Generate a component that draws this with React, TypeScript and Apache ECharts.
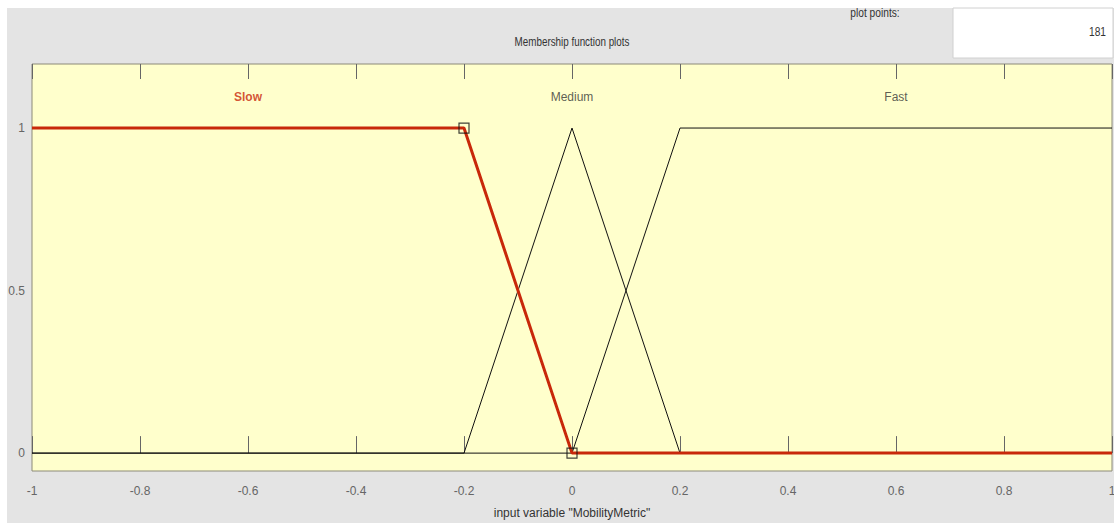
import React, { useEffect, useRef } from "react";
import * as echarts from "echarts";

const slowPts: [number, number][] = [[-1, 1], [-0.2, 1], [0, 0], [1, 0]];
const mediumPts: [number, number][] = [[-1, 0], [-0.2, 0], [0, 1], [0.2, 0], [1, 0]];
const fastPts: [number, number][] = [[-1, 0], [0, 0], [0.2, 1], [1, 1]];
const vertexPts: [number, number][] = [[-0.2, 1], [0, 0]];
const mfNames = ["Slow", "Medium", "Fast"];
const mfLabelPos: [number, number][] = [[-0.6, 1.095], [0, 1.095], [0.6, 1.095]];
const xTicks = [-1, -0.8, -0.6, -0.4, -0.2, 0, 0.2, 0.4, 0.6, 0.8, 1];
const yTicks = [0, 0.5, 1];
const plotPoints = "181";

const FONT = "'Liberation Sans', Arial, sans-serif";

export default function App() {
  const ref = useRef<HTMLDivElement>(null);
  useEffect(() => {
    if (!ref.current) return;
    const chart = echarts.init(ref.current, null, { renderer: "svg" });
    const fmt = (v: number) => {
      const r = Math.round(v * 10) / 10;
      return r === 0 ? "0" : String(r);
    };
    chart.setOption({
      animation: false,
      backgroundColor: "#ffffff",
      graphic: [
        { type: "rect", z: -10, shape: { x: 7, y: 8, width: 1107, height: 515 }, style: { fill: "#e4e4e4" } },
        { type: "rect", z: 10, shape: { x: 953, y: 8, width: 160, height: 50 }, style: { fill: "#ffffff", stroke: "#d0d0d0", lineWidth: 1 } },
        { type: "text", z: 11, x: 1106, y: 32, scaleX: 0.85, style: { text: plotPoints, align: "right", verticalAlign: "middle", fill: "#333", font: `12px ${FONT}` } },
        { type: "text", z: 11, x: 875, y: 13, scaleX: 0.85, style: { text: "plot points:", align: "center", verticalAlign: "middle", fill: "#333", font: `12px ${FONT}` } },
        { type: "text", z: 11, x: 572, y: 42, scaleX: 0.82, style: { text: "Membership function plots", align: "center", verticalAlign: "middle", fill: "#333", font: `12px ${FONT}` } },
      ],
      grid: {
        left: 32, right: 2, top: 64, bottom: 52,
        outerBoundsMode: "none", containLabel: false,
        show: true, backgroundColor: "#ffffcc", borderColor: "#8c8a78", borderWidth: 1,
      },
      xAxis: [
        {
          type: "value", min: -1, max: 1, position: "bottom",
          axisLine: { show: false },
          splitLine: { show: false },
          axisTick: { show: true, inside: true, length: 17, lineStyle: { color: "#666", width: 1 }, customValues: xTicks },
          axisLabel: { show: true, customValues: xTicks, formatter: fmt, color: "#666", fontSize: 12, fontFamily: FONT, margin: 14 },
          name: 'input variable "MobilityMetric"', nameLocation: "middle", nameGap: 36,
          nameTextStyle: { color: "#333", fontSize: 12, fontFamily: FONT },
        },
        {
          type: "value", min: -1, max: 1, position: "top",
          axisLine: { show: false },
          splitLine: { show: false },
          axisTick: { show: true, inside: true, length: 15, lineStyle: { color: "#666", width: 1 }, customValues: xTicks },
          axisLabel: { show: false },
        },
      ],
      yAxis: {
        type: "value", min: -0.055, max: 1.197,
        axisLine: { show: false },
        splitLine: { show: false },
        axisTick: { show: false },
        axisLabel: { show: true, customValues: yTicks, formatter: (v: number) => String(v), color: "#666", fontSize: 12, fontFamily: FONT, margin: 7 },
      },
      series: [
        {
          type: "line", data: mediumPts, symbol: "none", xAxisIndex: 0,
          lineStyle: { color: "#111", width: 1 }, z: 2,
        },
        {
          type: "line", data: fastPts, symbol: "none", xAxisIndex: 0,
          lineStyle: { color: "#111", width: 1 }, z: 2,
        },
        {
          type: "line", data: slowPts, symbol: "none", xAxisIndex: 0,
          lineStyle: { color: "#c8280a", width: 3 }, z: 3,
        },
        {
          type: "scatter", data: vertexPts, symbol: "rect", symbolSize: 10, xAxisIndex: 0,
          itemStyle: { color: "rgba(0,0,0,0)", borderColor: "#111", borderWidth: 1.2 }, z: 4,
        },
        {
          type: "scatter", xAxisIndex: 0, symbolSize: 0, z: 5,
          data: mfLabelPos.map((p, i) => ({
            value: p, name: mfNames[i],
            label: { color: i === 0 ? "#c8280a" : "#333", fontWeight: i === 0 ? "bold" : "normal" },
          })),
          label: {
            show: true, position: "inside", formatter: (p: any) => p.name,
            fontSize: 12, fontFamily: FONT,
          },
        },
      ],
    });
    return () => chart.dispose();
  }, []);
  return <div ref={ref} style={{ position: "absolute", left: 0, top: 0, width: 1114, height: 523 }} />;
}
